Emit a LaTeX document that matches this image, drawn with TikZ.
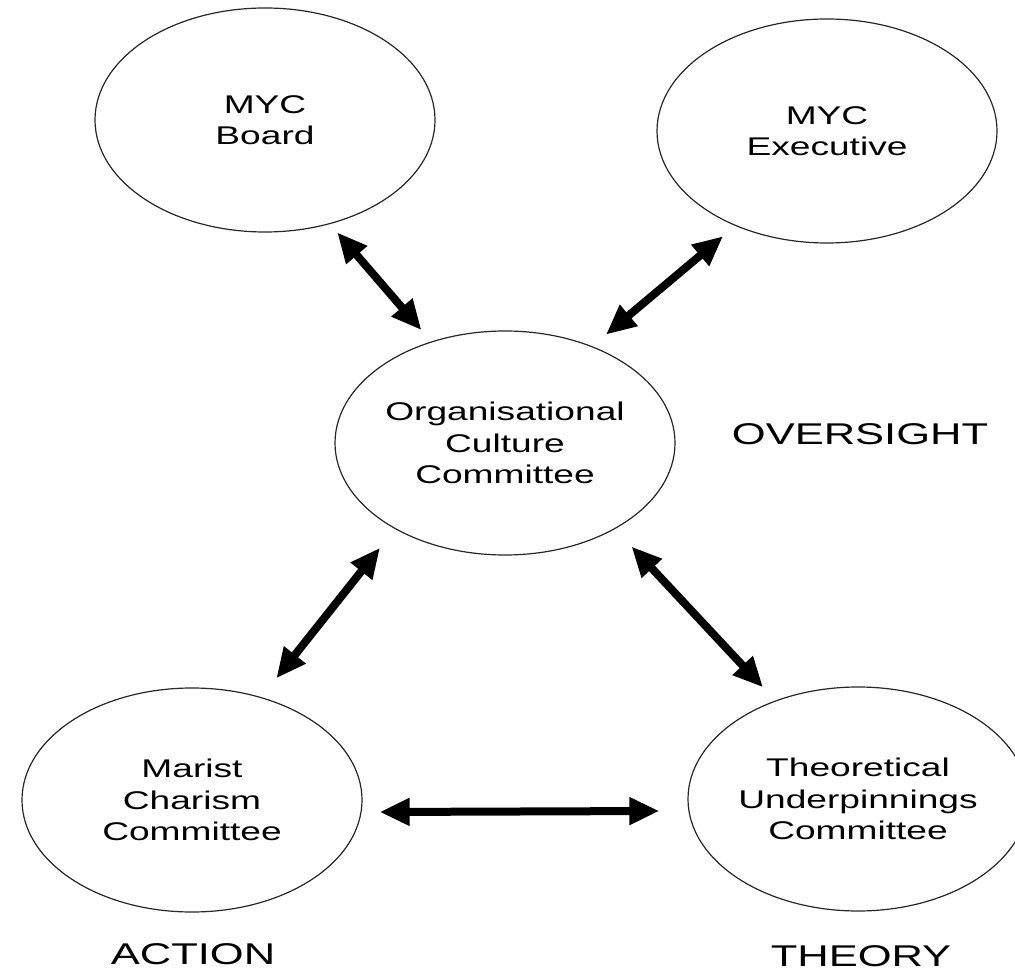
\documentclass[tikz,border=0pt]{standalone}
\usepackage{fontspec}
\setmainfont{Liberation Sans}[FakeStretch=1.45]
\usepackage{tikz}
\usetikzlibrary{arrows.meta, shapes.geometric}

\begin{document}
\begin{tikzpicture}[x=0.5pt, y=0.5pt,
    committee/.style={ellipse, draw=black!85, line width=0.6pt, inner sep=0pt,
        minimum width=170pt, minimum height=112pt, align=center,
        font=\fontsize{12.8}{15.75}\selectfont},
    area/.style={font=\fontsize{15}{18}\selectfont},
    link/.style={line width=4pt, {Triangle[length=15pt,width=13pt]}-{Triangle[length=15pt,width=13pt]}}]
\useasboundingbox (0,0) rectangle (1015,974);

\node[committee] (board) at (265,854) {MYC\\Board};
\node[committee] (exec) at (827,843) {MYC\\Executive};
\node[committee] (org) at (505,531) {Organisational\\Culture\\Committee};
\node[committee] (marist) at (192,174) {Marist\\Charism\\Committee};
\node[committee] (theory) at (858,175) {Theoretical\\Underpinnings\\Committee};

\node[area] (oversight) at (860,540) {OVERSIGHT};
\node[area] (action) at (193,20) {ACTION};
\node[area] (theorylbl) at (861,18) {THEORY};

\foreach \s/\t/\gs/\gt in {board.-58/org.126/5.5/7.5, exec.226.7/org.48.6/8/9,
    org.218.8/marist.56/12/12, org.-38.8/theory.130/12/9}
{
    \draw[link, shorten <=\gs pt, shorten >=\gt pt] (\s) -- (\t);
};
\draw[link] ([xshift=8.5pt, yshift=-6pt]marist.east) -- ([xshift=-14pt, yshift=-6pt]theory.west);
\end{tikzpicture}
\end{document}
